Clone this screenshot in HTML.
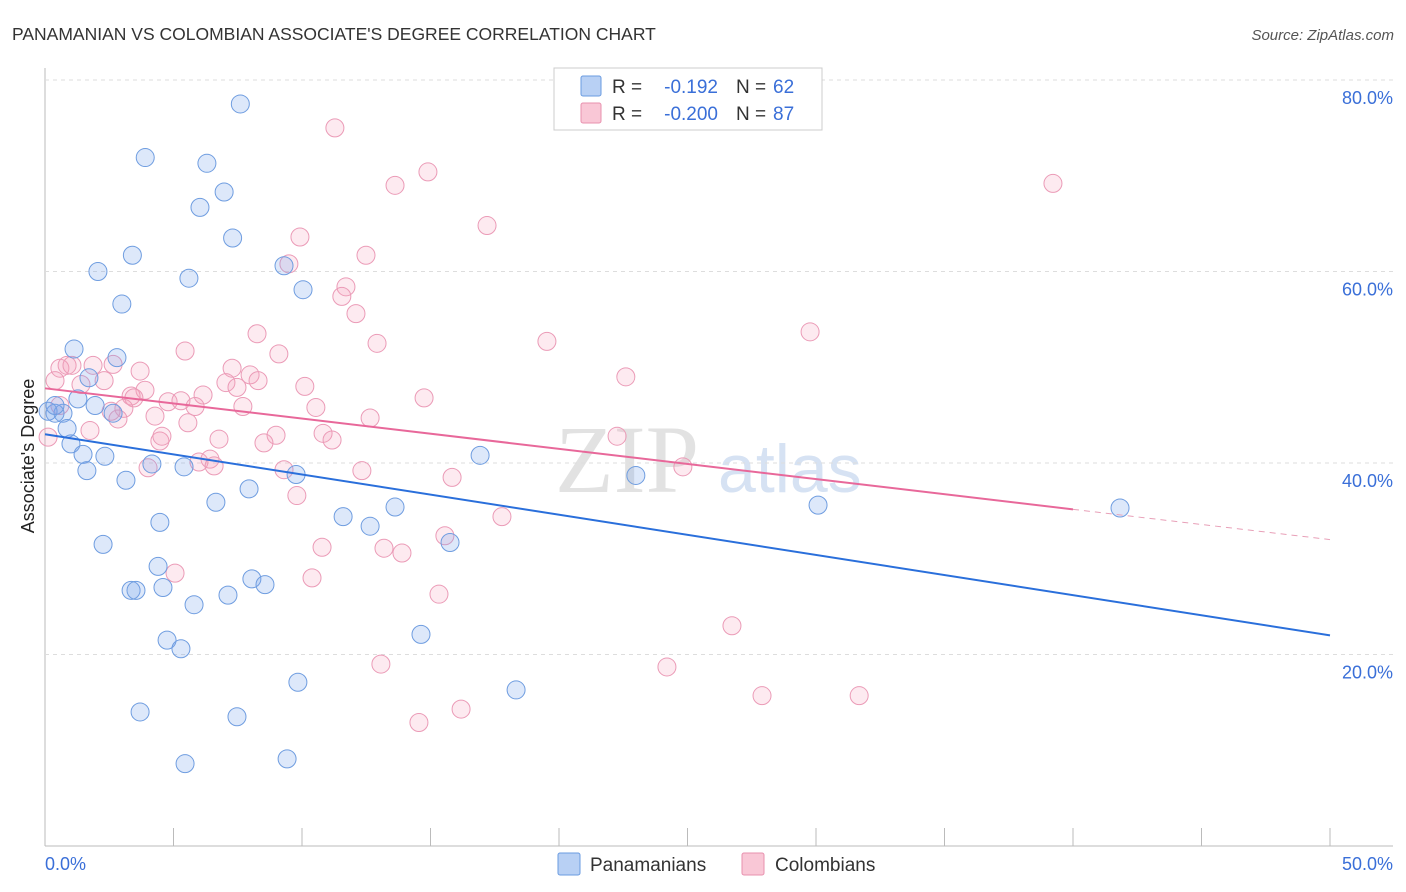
<!DOCTYPE html>
<html><head><meta charset="utf-8"><style>
body{margin:0;background:#fff;font-family:"Liberation Sans",sans-serif}
</style></head><body>
<svg id="chart" width="1406" height="892" style="position:absolute;left:0;top:0">
<text x="12" y="40" font-size="17.5" fill="#333">PANAMANIAN VS COLOMBIAN ASSOCIATE'S DEGREE CORRELATION CHART</text>
<text x="1394" y="40" font-size="15" fill="#555" text-anchor="end" font-style="italic">Source: ZipAtlas.com</text>
<text x="555" y="492" font-size="96" fill="#e2e2e2" font-family="Liberation Serif,serif">ZIP</text>
<text x="718" y="492" font-size="68" fill="#d6e2f3">atlas</text>
<g id="grid"></g><g id="pts"></g><g id="lines"></g>
<text transform="translate(34,456) rotate(-90)" font-size="18" fill="#222" text-anchor="middle">Associate's Degree</text>
<text x="45" y="870" font-size="18" fill="#3a6fd8">0.0%</text>
<text x="1393" y="870" font-size="18" fill="#3a6fd8" text-anchor="end">50.0%</text>
<g>
<rect x="554" y="68" width="268" height="62" fill="#fff" stroke="#ccc"/>
<rect x="581" y="76" width="20" height="20" fill="#b8d0f4" stroke="#6a9be0" rx="2"/>
<rect x="581" y="103" width="20" height="20" fill="#f9c7d6" stroke="#e890ae" rx="2"/>
<text x="612" y="93" font-size="19" fill="#333">R =</text>
<text x="718" y="93" font-size="19" fill="#3a6fd8" text-anchor="end">-0.192</text>
<text x="736" y="93" font-size="19" fill="#333">N =</text>
<text x="773" y="93" font-size="19" fill="#3a6fd8">62</text>
<text x="612" y="120" font-size="19" fill="#333">R =</text>
<text x="718" y="120" font-size="19" fill="#3a6fd8" text-anchor="end">-0.200</text>
<text x="736" y="120" font-size="19" fill="#333">N =</text>
<text x="773" y="120" font-size="19" fill="#3a6fd8">87</text>
</g>
<g>
<rect x="558" y="853" width="22" height="22" fill="#b8d0f4" stroke="#6a9be0" rx="2"/>
<text x="590" y="871" font-size="19" fill="#333">Panamanians</text>
<rect x="742" y="853" width="22" height="22" fill="#f9c7d6" stroke="#e890ae" rx="2"/>
<text x="775" y="871" font-size="19" fill="#333">Colombians</text>
</g>
</svg>
<script>
const yTicks=[20,40,60,80];
const xTickCount=10;
const blueX=[7.6,3.9,6.3,6.97,6.03,7.3,3.4,2.06,5.6,9.3,10.04,2.99,1.13,2.8,1.71,1.28,1.95,2.65,0.7,0.39,0.86,1.01,1.48,2.33,1.63,4.16,5.41,3.15,9.77,16.93,22.99,30.08,41.83,6.65,7.94,4.47,11.6,12.65,13.62,2.26,15.76,4.4,8.05,8.56,7.12,3.35,3.54,4.59,5.8,4.75,5.29,14.63,9.84,18.33,3.7,7.47,5.45,9.42,0.12,0.39];
const blueY=[77.5,71.9,71.3,68.3,66.7,63.5,61.7,60.0,59.3,60.6,58.1,56.6,51.9,51.0,48.9,46.7,46.0,45.2,45.2,45.2,43.6,42.0,40.9,40.7,39.2,39.9,39.6,38.2,38.8,40.8,38.7,35.6,35.3,35.9,37.3,33.8,34.4,33.4,35.4,31.5,31.7,29.2,27.9,27.3,26.2,26.7,26.7,27.0,25.2,21.5,20.6,22.1,17.1,16.3,14.0,13.5,8.6,9.1,45.4,46.0];
const pinkX=[11.28,14.9,13.62,39.22,17.2,9.92,12.49,9.49,11.71,11.55,12.1,8.25,12.92,19.53,29.77,5.45,9.1,22.6,0.86,0.58,1.05,1.87,2.65,3.7,7.28,7.98,7.04,8.29,7.47,10.11,2.3,1.4,3.89,6.15,3.35,3.46,4.79,5.29,5.84,7.7,10.54,14.75,3.07,2.57,2.84,4.28,5.56,6.77,8.99,10.82,11.17,8.52,12.65,4.47,4.55,4.01,5.99,6.42,6.58,9.3,9.8,12.33,15.84,22.26,24.82,17.78,15.56,10.78,13.19,13.89,10.39,5.06,15.33,26.73,24.2,13.07,27.9,31.68,14.55,16.19,0.39,0.12,1.75,0.58];
const pinkY=[75.0,70.4,69.0,69.2,64.8,63.6,61.7,60.8,58.4,57.4,55.6,53.5,52.5,52.7,53.7,51.7,51.4,49.0,50.2,49.9,50.2,50.2,50.3,49.6,49.9,49.2,48.4,48.6,47.9,48.0,48.6,48.2,47.6,47.1,47.0,46.8,46.4,46.5,45.9,45.9,45.8,46.8,45.7,45.4,44.6,44.9,44.2,42.5,42.9,43.1,42.4,42.1,44.7,42.3,42.8,39.5,40.1,40.4,39.7,39.3,36.6,39.2,38.5,42.8,39.6,34.4,32.4,31.2,31.1,30.6,28.0,28.5,26.3,23.0,18.7,19.0,15.7,15.7,12.9,14.3,48.6,42.7,43.4,46.0];
const blueTrend=[43.0,22.0];
const pinkTrend=[47.8,32.0];
const pinkSolidEnd=40;
const X0=45,X1=1330,Y0=846,PXY=191.5/20;
const sx=v=>X0+(v/50)*(X1-X0), sy=v=>Y0-v*PXY;
const NS='http://www.w3.org/2000/svg';
function mk(t,a,p){const e=document.createElementNS(NS,t);for(const k in a)e.setAttribute(k,a[k]);p.appendChild(e);return e;}
const grid=document.getElementById('grid'),pts=document.getElementById('pts'),lines=document.getElementById('lines');
let ax=mk('line',{x1:45,y1:68,x2:45,y2:846,stroke:'#bbb'},grid);


let bx=mk('line',{x1:45,y1:846,x2:1393,y2:846,stroke:'#bbb'},grid);


yTicks.forEach(t=>{
 const g=mk('line',{x1:45,y1:sy(t),x2:1393,y2:sy(t),stroke:'#ddd','stroke-dasharray':'4,4'},grid);
 
 
 const l=mk('text',{x:1393,y:sy(t)+24,'font-size':18,fill:'#3a6fd8','text-anchor':'end'},grid);l.textContent=t.toFixed(1)+'%';
 
 
});
for(let i=0;i<=xTickCount;i++){const v=i*50/xTickCount;
 const m=mk('line',{x1:sx(v),y1:828,x2:sx(v),y2:846,stroke:'#bbb'},grid);
 
 }
function dots(xs,ys,fill,stroke,name){xs.forEach((x,i)=>{
 const c=mk('circle',{cx:sx(x),cy:sy(ys[i]),r:9,fill:fill,stroke:stroke,'stroke-width':1},pts);
 
 });}
dots(pinkX,pinkY,'rgba(244,160,188,0.22)','#eb9bb7','colombian-point');
dots(blueX,blueY,'rgba(120,165,235,0.25)','#6f9de0','panamanian-point');
const bl=mk('line',{x1:sx(0),y1:sy(blueTrend[0]),x2:sx(50),y2:sy(blueTrend[1]),stroke:'#2a6fdb','stroke-width':2},lines);


const pe=pinkTrend[0]+(pinkTrend[1]-pinkTrend[0])*pinkSolidEnd/50;
const pl=mk('line',{x1:sx(0),y1:sy(pinkTrend[0]),x2:sx(pinkSolidEnd),y2:sy(pe),stroke:'#e8689a','stroke-width':2},lines);


const pd=mk('line',{x1:sx(pinkSolidEnd),y1:sy(pe),x2:sx(50),y2:sy(pinkTrend[1]),stroke:'#e8a0b8','stroke-width':1,'stroke-dasharray':'6,5'},lines);


</script>
</body></html>
